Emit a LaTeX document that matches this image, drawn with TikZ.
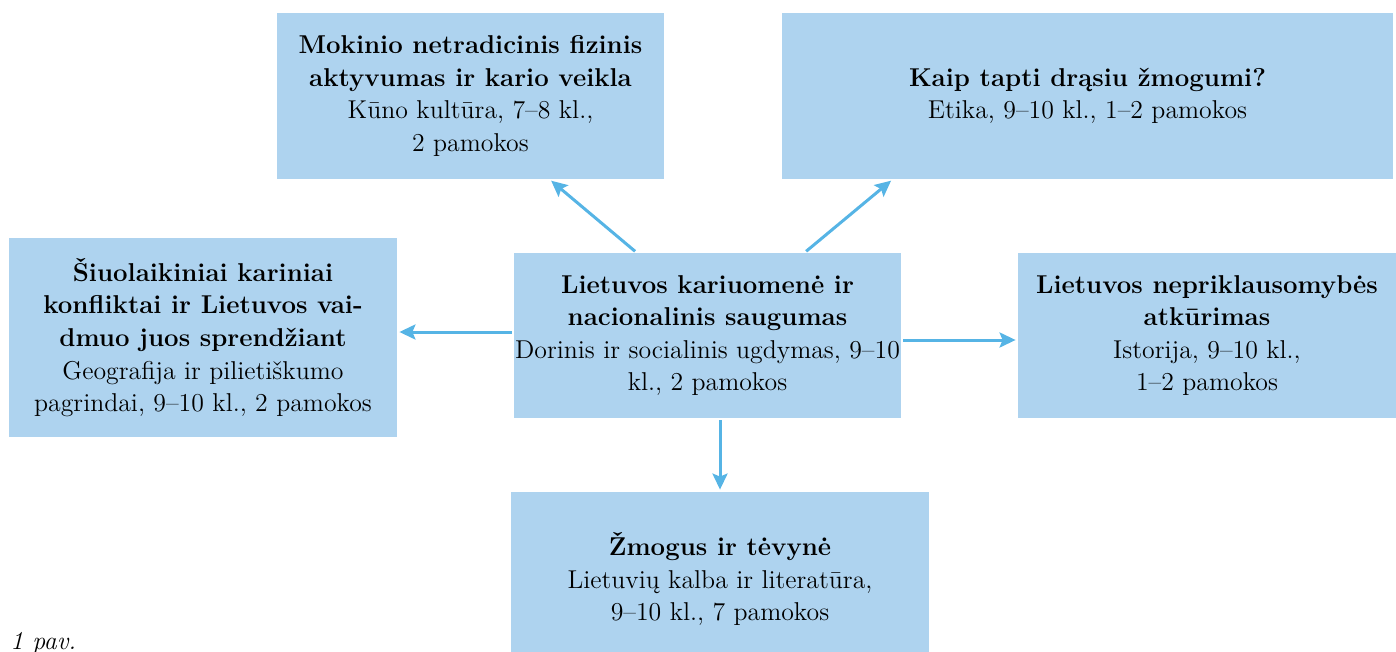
\documentclass[tikz,border=0pt]{standalone}
\usetikzlibrary{arrows.meta}
\definecolor{boxblue}{RGB}{174,211,239}
\definecolor{arrowblue}{RGB}{86,180,229}
\tikzset{
  topic/.style={fill=boxblue,inner sep=0pt,align=center,font=\fontsize{12.9}{16.3}\selectfont},
  link/.style={arrowblue,line width=1.5pt,-{Stealth[length=8pt,width=7.5pt,inset=1.5pt]},shorten <=1pt,shorten >=1pt}
}
\begin{document}
\begin{tikzpicture}[x=0.5pt,y=-0.5pt]
    \useasboundingbox (0,0) rectangle (1396,652);
    \node[topic,minimum width=193.5pt,minimum height=83pt] (tl) at (470.5,96)
        {\textbf{Mokinio netradicinis fizinis}\\\textbf{aktyvumas ir kario veikla}\\Kūno kultūra, 7–8 kl.,\\2 pamokos};
    \node[topic,minimum width=305.5pt,minimum height=83pt] (tr) at (1087.5,96)
        {\textbf{Kaip tapti drąsiu žmogumi?}\\Etika, 9–10 kl., 1–2 pamokos};
    \node[topic,minimum width=194pt,minimum height=99.5pt] (lf) at (203,337.5)
        {\textbf{Šiuolaikiniai kariniai}\\\textbf{konfliktai ir Lietuvos vai-}\\\textbf{dmuo juos sprendžiant}\\Geografija ir pilietiškumo\\pagrindai, 9–10 kl., 2 pamokos};
    \node[topic,minimum width=193.5pt,minimum height=82.5pt] (mid) at (707.5,335.5)
        {\textbf{Lietuvos kariuomenė ir}\\\textbf{nacionalinis saugumas}\\Dorinis ir socialinis ugdymas, 9–10\\kl., 2 pamokos};
    \node[topic,minimum width=189pt,minimum height=82.5pt] (rt) at (1207,335.5)
        {\textbf{Lietuvos nepriklausomybės}\\\textbf{atkūrimas}\\Istorija, 9–10 kl.,\\1–2 pamokos};
    \node[topic,minimum width=209pt,minimum height=87pt] (bot) at (720,579)
        {\textbf{Žmogus ir tėvynė}\\Lietuvių kalba ir literatūra,\\9–10 kl., 7 pamokos};
    \node[anchor=base west,inner sep=0pt,font=\itshape\fontsize{12.9}{15}\selectfont] (cap) at (10,649) {1 pav.};
    % arrows out of the middle box
    \draw[link] ([xshift=61.5pt]mid.north west) -- ([xshift=136.5pt]tl.south west);
    \draw[link] ([xshift=145.5pt]mid.north west) -- ([xshift=55.5pt]tr.south west);
    \coordinate (w) at ([yshift=1.75pt]mid.west);
    \draw[link] (w) -- (w -| lf.east);
    \coordinate (e) at ([yshift=-2.25pt]mid.east);
    \draw[link] (e) -- (e -| rt.west);
    \coordinate (s) at ([xshift=6.25pt]mid.south);
    \draw[link] (s) -- (s |- bot.north);
\end{tikzpicture}
\end{document}
